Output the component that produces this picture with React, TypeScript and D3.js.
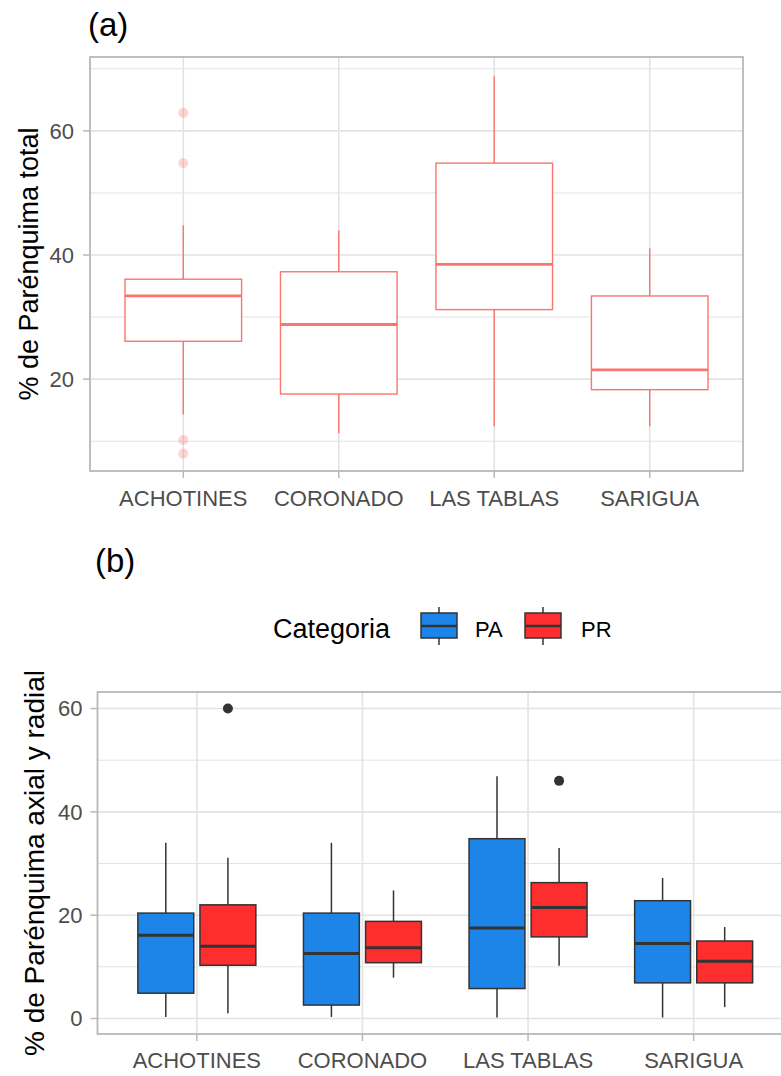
import * as d3 from 'd3'

const sites = ['ACHOTINES', 'CORONADO', 'LAS TABLAS', 'SARIGUA']
const categories = ['PA', 'PR']

// (a) % de parénquima total, five-number summary per site
const totalLow = [14.3, 11.3, 12.4, 12.4]
const totalQ1 = [26.1, 17.6, 31.2, 18.3]
const totalMedian = [33.4, 28.8, 38.5, 21.5]
const totalQ3 = [36.1, 37.3, 54.8, 33.4]
const totalHigh = [44.8, 44.0, 68.8, 41.1]
const totalOutliers = [
  { site: 'ACHOTINES', value: 62.9 },
  { site: 'ACHOTINES', value: 54.8 },
  { site: 'ACHOTINES', value: 10.2 },
  { site: 'ACHOTINES', value: 8.0 },
]

// (b) axial (PA) and radial (PR), [low, q1, median, q3, high] per site
const paStats = [
  [0.3, 4.9, 16.1, 20.4, 34.0],
  [0.3, 2.6, 12.6, 20.4, 34.0],
  [0.2, 5.8, 17.5, 34.8, 46.9],
  [0.2, 6.9, 14.5, 22.8, 27.2],
]
const prStats = [
  [1.0, 10.3, 14.0, 22.0, 31.1],
  [7.9, 10.8, 13.7, 18.8, 24.8],
  [10.2, 15.8, 21.5, 26.3, 33.0],
  [2.2, 6.9, 11.1, 15.0, 17.7],
]
const splitOutliers = [
  { site: 'ACHOTINES', cat: 'PR', value: 60.0 },
  { site: 'LAS TABLAS', cat: 'PR', value: 46.0 },
]

const ticksA = [20, 40, 60]
const minorA = [10, 30, 50, 70]
const ticksB = [0, 20, 40, 60]
const minorB = [10, 30, 50]

const FONT = '"Liberation Sans", Arial, sans-serif'
const GRID = '#E3E3E3'
const BORDER = '#B8B8B8'
const TICK_TXT = '#4D4D4D'
const PINK = '#F8766D'
const catColor: Record<string, string> = { PA: '#1E85E8', PR: '#FF2E2E' }
const DARK = '#333333'

export default function App() {
  // panel (a)
  const a = { left: 90, right: 743, top: 57, bottom: 471 }
  const xa = d3.scalePoint<string>().domain(sites).range([a.left, a.right]).padding(0.6)
  const ya = d3.scaleLinear().domain([5.2, 71.9]).range([a.bottom, a.top])
  const bwA = xa.step() * 0.75

  // panel (b)
  const b = { left: 97.5, right: 793, top: 692, bottom: 1034 }
  const xb = d3.scalePoint<string>().domain(sites).range([b.left, b.right]).padding(0.6)
  const yb = d3.scaleLinear().domain([-3.0, 63.2]).range([b.bottom, b.top])
  const dodge = d3.scaleBand<string>().domain(categories)
    .range([-0.375 * xb.step(), 0.375 * xb.step()])
  const bwB = dodge.bandwidth() * 0.9

  const boxesB = sites.flatMap((s, i) => [
    { site: s, cat: 'PA', st: paStats[i] },
    { site: s, cat: 'PR', st: prStats[i] },
  ])

  return (
    <svg width={781} height={1076} style={{ position: 'absolute', left: 0, top: 0, background: '#fff' }}
      fontFamily={FONT}>
      {/* ---------- (a) ---------- */}
      <text x={88} y={36} fontSize={33}>(a)</text>
      <g>
        {minorA.map(v => (
          <line key={'ma' + v} x1={a.left} x2={a.right} y1={ya(v)} y2={ya(v)} stroke={GRID} strokeWidth={1} />
        ))}
        {ticksA.map(v => (
          <line key={'ga' + v} x1={a.left} x2={a.right} y1={ya(v)} y2={ya(v)} stroke={GRID} strokeWidth={1.6} />
        ))}
        {sites.map(s => (
          <line key={'gx' + s} x1={xa(s)} x2={xa(s)} y1={a.top} y2={a.bottom} stroke={GRID} strokeWidth={1.6} />
        ))}
        {sites.map((s, i) => {
          const cx = xa(s)!
          return (
            <g key={'boxa' + s} stroke={PINK} fill="none">
              <line x1={cx} x2={cx} y1={ya(totalHigh[i])} y2={ya(totalQ3[i])} strokeWidth={1.4} />
              <line x1={cx} x2={cx} y1={ya(totalQ1[i])} y2={ya(totalLow[i])} strokeWidth={1.4} />
              <rect x={cx - bwA / 2} width={bwA} y={ya(totalQ3[i])} height={ya(totalQ1[i]) - ya(totalQ3[i])}
                fill="#fff" strokeWidth={1.4} />
              <line x1={cx - bwA / 2} x2={cx + bwA / 2} y1={ya(totalMedian[i])} y2={ya(totalMedian[i])} strokeWidth={2.8} />
            </g>
          )
        })}
        {totalOutliers.map((o, k) => (
          <circle key={'oa' + k} cx={xa(o.site)} cy={ya(o.value)} r={5} fill={PINK} opacity={0.3} />
        ))}
        <rect x={a.left} y={a.top} width={a.right - a.left} height={a.bottom - a.top} fill="none" stroke={BORDER} strokeWidth={1.8} />
        {ticksA.map(v => (
          <g key={'ta' + v}>
            <line x1={a.left - 7} x2={a.left} y1={ya(v)} y2={ya(v)} stroke={BORDER} strokeWidth={1.5} />
            <text x={a.left - 16} y={ya(v)} dy="0.36em" textAnchor="end" fontSize={22} fill={TICK_TXT}>{v}</text>
          </g>
        ))}
        {sites.map(s => (
          <g key={'xa' + s}>
            <line x1={xa(s)} x2={xa(s)} y1={a.bottom} y2={a.bottom + 7} stroke={BORDER} strokeWidth={1.5} />
            <text x={xa(s)} y={a.bottom + 35} textAnchor="middle" fontSize={22} fill={TICK_TXT}>{s}</text>
          </g>
        ))}
        <text transform={`translate(38,${(a.top + a.bottom) / 2}) rotate(-90)`} textAnchor="middle" fontSize={27}>
          % de Parénquima total
        </text>
      </g>

      {/* ---------- (b) ---------- */}
      <text x={95} y={572} fontSize={33}>(b)</text>
      <g>
        <text x={273} y={638} fontSize={27}>Categoria</text>
        {categories.map((c, i) => {
          const kx = [421, 525][i]
          const tx = [475, 581][i]
          return (
            <g key={'lg' + c}>
              <line x1={kx + 18} x2={kx + 18} y1={607} y2={645} stroke={DARK} strokeWidth={1.5} />
              <rect x={kx} y={613} width={36} height={25} fill={catColor[c]} stroke={DARK} strokeWidth={1.5} />
              <line x1={kx} x2={kx + 36} y1={626} y2={626} stroke={DARK} strokeWidth={2.5} />
              <text x={tx} y={637} fontSize={22}>{c}</text>
            </g>
          )
        })}
      </g>
      <g>
        {minorB.map(v => (
          <line key={'mb' + v} x1={b.left} x2={b.right} y1={yb(v)} y2={yb(v)} stroke={GRID} strokeWidth={1} />
        ))}
        {ticksB.map(v => (
          <line key={'gb' + v} x1={b.left} x2={b.right} y1={yb(v)} y2={yb(v)} stroke={GRID} strokeWidth={1.6} />
        ))}
        {sites.map(s => (
          <line key={'gxb' + s} x1={xb(s)} x2={xb(s)} y1={b.top} y2={b.bottom} stroke={GRID} strokeWidth={1.6} />
        ))}
        {boxesB.map(d => {
          const cx = xb(d.site)! + dodge(d.cat)! + dodge.bandwidth() / 2
          const [lo, q1, md, q3, hi] = d.st
          return (
            <g key={'bb' + d.site + d.cat} stroke={DARK}>
              <line x1={cx} x2={cx} y1={yb(hi)} y2={yb(q3)} strokeWidth={1.5} />
              <line x1={cx} x2={cx} y1={yb(q1)} y2={yb(lo)} strokeWidth={1.5} />
              <rect x={cx - bwB / 2} width={bwB} y={yb(q3)} height={yb(q1) - yb(q3)}
                fill={catColor[d.cat]} strokeWidth={1.5} />
              <line x1={cx - bwB / 2} x2={cx + bwB / 2} y1={yb(md)} y2={yb(md)} strokeWidth={3} />
            </g>
          )
        })}
        {splitOutliers.map((o, k) => (
          <circle key={'ob' + k} cx={xb(o.site)! + dodge(o.cat)! + dodge.bandwidth() / 2} cy={yb(o.value)}
            r={5} fill={DARK} />
        ))}
        <rect x={b.left} y={b.top} width={b.right - b.left} height={b.bottom - b.top} fill="none" stroke={BORDER} strokeWidth={1.8} />
        {ticksB.map(v => (
          <g key={'tb' + v}>
            <line x1={b.left - 7} x2={b.left} y1={yb(v)} y2={yb(v)} stroke={BORDER} strokeWidth={1.5} />
            <text x={b.left - 15} y={yb(v)} dy="0.36em" textAnchor="end" fontSize={22} fill={TICK_TXT}>{v}</text>
          </g>
        ))}
        {sites.map(s => (
          <g key={'xb' + s}>
            <line x1={xb(s)} x2={xb(s)} y1={b.bottom} y2={b.bottom + 7} stroke={BORDER} strokeWidth={1.5} />
            <text x={xb(s)} y={b.bottom + 34} textAnchor="middle" fontSize={22} fill={TICK_TXT}>{s}</text>
          </g>
        ))}
        <text transform={`translate(44,${(b.top + b.bottom) / 2}) rotate(-90)`} textAnchor="middle" fontSize={28}>
          % de Parénquima axial y radial
        </text>
      </g>
    </svg>
  )
}
